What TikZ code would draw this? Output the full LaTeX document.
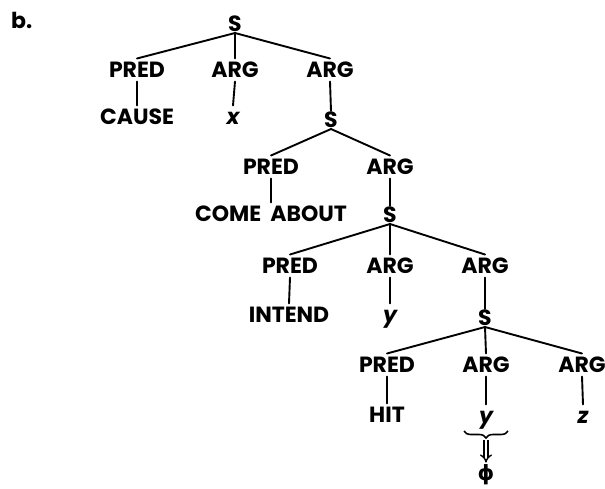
\documentclass[tikz,border=0pt]{standalone}
\usepackage{fontspec}
\setmainfont{Poppins}
\newfontfamily\dejavu{DejaVu Sans}
\usetikzlibrary{decorations.pathreplacing,arrows.meta}
\begin{document}
\begin{tikzpicture}[x=1pt,y=-1pt,
  lab/.style={font=\fontsize{22}{22}\selectfont\bfseries, inner sep=0pt, outer xsep=0pt, outer ysep=4pt, text height=15pt, text depth=0pt},
  snode/.style={lab, outer ysep=1.5pt},
  var/.style={lab, font=\fontsize{22}{22}\selectfont\bfseries\itshape},
  edge/.style={line width=1.9pt, line cap=round}
]
\useasboundingbox (0,0) rectangle (605,488);
\node[anchor=base west, inner sep=0pt, font=\fontsize{22}{22}\selectfont\bfseries] (lbl) at (11,28) {b.};
% level 0
\node[snode] (s0) at (235,24) {S};
\node[lab] (p1) at (137,70) {PRED};
\node[lab] (a1) at (235,70) {ARG};
\node[lab] (a1b) at (330,70) {ARG};
\node[lab] (cause) at (137,117) {CAUSE};
\node[var] (x) at (233,117) {x};
\node[snode] (s1) at (331,120) {S};
% level 1
\node[lab] (p2) at (271,167) {PRED};
\node[lab] (a2) at (390,167) {ARG};
\node[lab] (come) at (271,214) {COME\hspace{0.2em} ABOUT};
\node[snode] (s2) at (390,215) {S};
% level 2
\node[lab] (p3) at (290,266) {PRED};
\node[lab] (a3) at (390,266) {ARG};
\node[lab] (a3b) at (485,266) {ARG};
\node[lab] (intend) at (289,315) {INTEND};
\node[var] (y1) at (390,315) {y};
\node[snode] (s3) at (485,318) {S};
% level 3
\node[lab] (p4) at (387,365) {PRED};
\node[lab] (a4) at (486,365) {ARG};
\node[lab] (a4b) at (582,365) {ARG};
\node[lab] (hit) at (387,415) {HIT};
\node[var] (y2) at (486,416) {y};
\node[var] (z) at (583,416) {z};
\node[inner sep=0pt, font=\fontsize{21}{21}\selectfont\dejavu\bfseries] (phi) at (486,475) {ϕ};

\draw[edge] (s0.south) -- (p1.north);
\draw[edge] (s0.south) -- (a1.north);
\draw[edge] (s0.south) -- (a1b.north);
\draw[edge] (p1.south) -- (cause.north);
\draw[edge] (a1.south) -- (x.north);
\draw[edge] (a1b.south) -- (s1.north);
\draw[edge] (s1.south) -- (p2.north);
\draw[edge] (s1.south) -- (a2.north);
\draw[edge] (p2.south) -- (come.north);
\draw[edge] (a2.south) -- (s2.north);
\draw[edge] (s2.south) -- (p3.north);
\draw[edge] (s2.south) -- (a3.north);
\draw[edge] (s2.south) -- (a3b.north);
\draw[edge] (p3.south) -- (intend.north);
\draw[edge] (a3.south) -- (y1.north);
\draw[edge] (a3b.south) -- (s3.north);
\draw[edge] (s3.south) -- (p4.north);
\draw[edge] (s3.south) -- (a4.north);
\draw[edge] (s3.south) -- (a4b.north);
\draw[edge] (p4.south) -- (hit.north);
\draw[edge] (a4.south) -- (y2.north);
\draw[edge] (a4b.south) -- (z.north);

\coordinate (bl) at (464,431);
\coordinate (br) at (508,431);
\coordinate (bt) at (486,440);
\draw[line width=1.6pt, decorate, decoration={brace, amplitude=7pt, mirror}] (bl) -- (br);
\draw[double, double distance=2.6pt, line width=1.4pt, -{Implies}, shorten >=2pt] (bt) -- (phi.north);
\end{tikzpicture}
\end{document}
